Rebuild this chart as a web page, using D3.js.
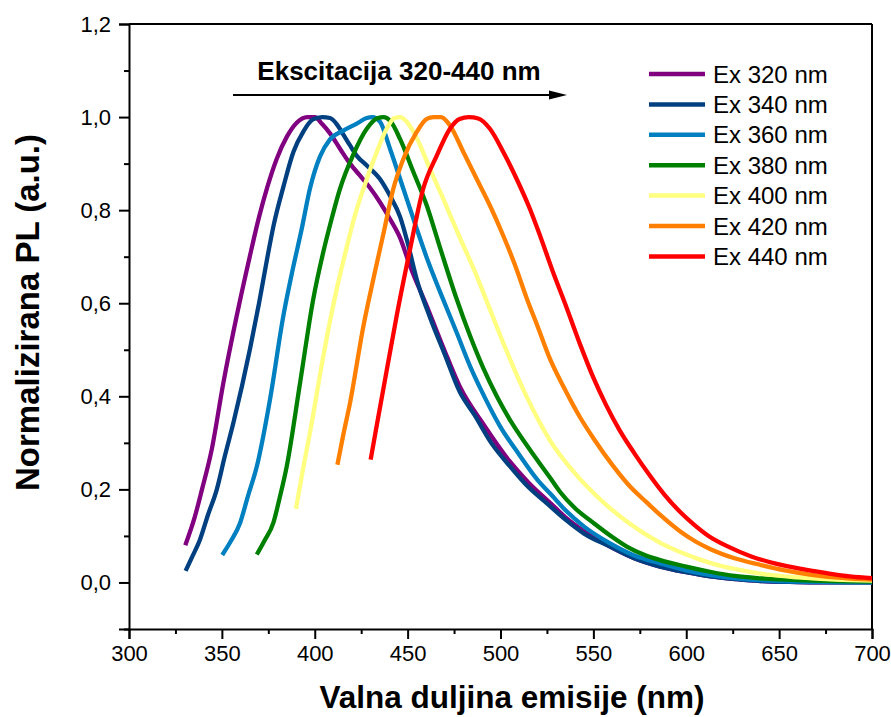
<!DOCTYPE html>
<html>
<head>
<meta charset="utf-8">
<script src="https://cdn.jsdelivr.net/npm/d3@7"></script>
<style>
  html, body { margin: 0; padding: 0; background: #fff; }
  svg { display: block; font-family: "Liberation Sans", Arial, sans-serif; }
</style>
</head>
<body>
<svg id="chart" width="891" height="717"></svg>
<script>
// ---- data ----
const seriesNames = ["Ex 320 nm", "Ex 340 nm", "Ex 360 nm", "Ex 380 nm", "Ex 400 nm", "Ex 420 nm", "Ex 440 nm"];
const seriesColors = ["#800080", "#004080", "#0080c0", "#008000", "#ffff80", "#ff8000", "#ff0000"];

const ex320 = [[330.3,0.08],[335.5,0.142],[339.3,0.2],[344.5,0.285],[350.8,0.429],[358,0.573],[365,0.7],[370,0.785],[374.5,0.85],[379.5,0.91],[385,0.958],[390.3,0.988],[396,1.0],[400,1.0],[404,0.985],[408.2,0.965],[413.6,0.932],[419,0.9],[424.4,0.874],[429.7,0.848],[435.1,0.817],[440.5,0.781],[446,0.74],[451.3,0.68],[460.3,0.594],[469.2,0.505],[478.2,0.42],[490.8,0.34],[505,0.26],[515,0.215],[527,0.17],[535,0.14],[545,0.11],[559,0.077],[572,0.052],[586,0.034],[600,0.022],[613,0.013],[627,0.007],[640,0.003],[660,0.001],[680,0],[700,0]];
const ex340 = [[330.5,0.025],[334,0.055],[338.2,0.092],[342.5,0.145],[347.2,0.199],[351.5,0.27],[356.2,0.343],[365.1,0.501],[370,0.6],[374.1,0.69],[378,0.77],[383.1,0.85],[388.5,0.925],[394,0.97],[399,0.995],[404,1.0],[408.2,0.998],[411.8,0.985],[415,0.965],[419,0.939],[423,0.915],[428,0.896],[435.1,0.867],[440.5,0.831],[446,0.785],[450,0.73],[455,0.65],[462,0.57],[470,0.49],[478,0.41],[486,0.36],[495,0.3],[505,0.25],[515,0.205],[525,0.17],[535,0.135],[545,0.105],[559,0.077],[572,0.052],[586,0.034],[600,0.022],[613,0.013],[627,0.007],[640,0.003],[660,0.001],[680,0],[700,0]];
const ex360 = [[350.2,0.059],[355,0.09],[359.8,0.128],[364,0.185],[368.8,0.249],[375.9,0.393],[383.1,0.573],[388,0.67],[393,0.76],[397.4,0.846],[402.8,0.915],[408.2,0.952],[415.4,0.971],[422.6,0.986],[428,0.998],[431,1.0],[435.1,0.99],[440.5,0.932],[447.7,0.846],[454.9,0.76],[461,0.69],[467.4,0.625],[476.4,0.537],[483.6,0.465],[490,0.41],[499.7,0.336],[510,0.275],[520,0.22],[527,0.19],[535,0.155],[545,0.12],[559,0.084],[572,0.058],[586,0.041],[600,0.026],[613,0.016],[627,0.009],[640,0.005],[660,0.002],[680,0.001],[700,0]];
const ex380 = [[368.8,0.06],[373,0.09],[377.7,0.128],[381,0.18],[384.9,0.249],[392.1,0.429],[399.2,0.609],[404.6,0.71],[409,0.78],[413.6,0.846],[420.8,0.92],[428,0.975],[434,0.998],[437,1.0],[441,0.99],[445.9,0.953],[453.1,0.882],[460.3,0.81],[467.4,0.72],[476.4,0.609],[483.6,0.53],[490.8,0.46],[498,0.4],[505,0.35],[515,0.29],[526.7,0.225],[532,0.195],[540,0.16],[550,0.128],[560,0.098],[568,0.077],[577,0.06],[586,0.048],[600,0.034],[612.8,0.023],[626,0.014],[640,0.009],[660,0.005],[680,0.003],[700,0.002]];
const ex400 = [[389.9,0.158],[393.5,0.24],[397.4,0.321],[404.6,0.486],[411.8,0.63],[417.2,0.72],[421,0.78],[426.2,0.846],[433.4,0.925],[438.7,0.975],[443,0.998],[446,1.0],[449.5,0.99],[454.9,0.955],[462,0.889],[469.2,0.824],[478.2,0.74],[486,0.67],[494,0.59],[503,0.5],[514,0.4],[526.7,0.305],[540,0.235],[556,0.17],[570,0.125],[586,0.085],[600,0.06],[612.8,0.042],[626,0.029],[640,0.019],[660,0.011],[680,0.006],[700,0.004]];
const ex420 = [[412.2,0.253],[415.5,0.32],[419,0.386],[426.2,0.551],[432,0.66],[437,0.75],[442.3,0.846],[447.7,0.91],[454.9,0.968],[460.3,0.996],[464,1.0],[468,1.0],[472.8,0.982],[480,0.925],[487.2,0.867],[494.3,0.81],[501.5,0.745],[508,0.68],[514,0.612],[520,0.55],[526.7,0.48],[534,0.42],[542.8,0.355],[550,0.31],[560.7,0.25],[570,0.205],[578.7,0.172],[586,0.145],[596.6,0.11],[605,0.088],[612.8,0.072],[626,0.052],[639.7,0.038],[653,0.026],[666.6,0.017],[680,0.011],[700,0.006]];
const ex440 = [[430.1,0.264],[433.5,0.34],[436.9,0.415],[444.1,0.573],[451.3,0.716],[458.4,0.846],[465.7,0.917],[472.8,0.975],[478,0.996],[483,1.0],[488,0.997],[494.3,0.975],[501.5,0.925],[508.7,0.867],[515.9,0.802],[521.3,0.745],[528,0.67],[534.7,0.6],[543,0.51],[550,0.44],[557,0.38],[564,0.328],[572,0.278],[580,0.232],[588,0.19],[596.6,0.152],[604,0.125],[612,0.1],[622,0.078],[635,0.056],[648.7,0.04],[662,0.029],[675.6,0.02],[688,0.013],[700,0.009]];
const seriesData = [ex320, ex340, ex360, ex380, ex400, ex420, ex440];

const xTicks = [300, 350, 400, 450, 500, 550, 600, 650, 700];
const yTicks = [0, 0.2, 0.4, 0.6, 0.8, 1.0, 1.2];
const xLabel = "Valna duljina emisije (nm)";
const yLabel = "Normalizirana PL (a.u.)";
const annotation = "Ekscitacija 320-440 nm";

// ---- layout ----
const svg = d3.select("#chart");
const W = 891, H = 717;
const m = {left: 129, right: 19, top: 24, bottom: 88};
const pw = W - m.left - m.right, ph = H - m.top - m.bottom;

const x = d3.scaleLinear().domain([300, 700]).range([m.left, m.left + pw]);
const y = d3.scaleLinear().domain([-0.1, 1.2]).range([m.top + ph, m.top]);

const fmt = d => d3.format(".1f")(d).replace(".", ",");

// frame (top + right)
svg.append("line").attr("x1", x(300)).attr("x2", x(700)).attr("y1", y(1.2)).attr("y2", y(1.2))
  .attr("stroke", "#000").attr("stroke-width", 2);
svg.append("line").attr("x1", x(700)).attr("x2", x(700)).attr("y1", y(1.2)).attr("y2", y(-0.1))
  .attr("stroke", "#000").attr("stroke-width", 2);

// bottom axis
const xAxis = d3.axisBottom(x).tickValues(xTicks).tickSize(10).tickPadding(6).tickFormat(d3.format("d"));
const gx = svg.append("g").attr("transform", `translate(0,${y(-0.1)})`).call(xAxis);
const xMinor = d3.axisBottom(x).tickValues(d3.range(325, 700, 50)).tickSize(5).tickFormat("");
const gxm = svg.append("g").attr("transform", `translate(0,${y(-0.1)})`).call(xMinor);
gxm.select(".domain").remove();

// left axis
const yAxis = d3.axisLeft(y).tickValues(yTicks).tickSize(10).tickPadding(8).tickFormat(fmt);
const gy = svg.append("g").attr("transform", `translate(${x(300)},0)`).call(yAxis);
const yMinor = d3.axisLeft(y).tickValues([0.1, 0.3, 0.5, 0.7, 0.9, 1.1, -0.1]).tickSize(5).tickFormat("");
const gym = svg.append("g").attr("transform", `translate(${x(300)},0)`).call(yMinor);
gym.select(".domain").remove();

[gx, gy, gxm, gym].forEach(g => {
  g.selectAll(".domain").attr("stroke", "#000").attr("stroke-width", 2);
  g.selectAll(".tick line").attr("stroke", "#000").attr("stroke-width", 2);
  g.selectAll(".tick text").attr("font-size", 22).attr("fill", "#000")
    .attr("font-family", "'Liberation Sans', Arial, sans-serif");
});

// series lines
const line = d3.line().x(d => x(d[0])).y(d => y(d[1])).curve(d3.curveMonotoneX);
seriesData.forEach((s, i) => {
  svg.append("path").datum(s).attr("d", line)
    .attr("fill", "none").attr("stroke", seriesColors[i]).attr("stroke-width", 4.3)
    .attr("stroke-linejoin", "round");
});

// annotation + arrow
svg.append("text").attr("x", 399).attr("y", 80).attr("text-anchor", "middle")
  .attr("font-size", 26).attr("font-weight", "bold").text(annotation);
svg.append("line").attr("x1", 233).attr("x2", 553).attr("y1", 95).attr("y2", 95)
  .attr("stroke", "#000").attr("stroke-width", 2);
svg.append("path").attr("d", "M567,95 L549,90.5 L549,99.5 Z").attr("fill", "#000");

// legend
const lg = svg.append("g");
seriesNames.forEach((n, i) => {
  const yy = 74 + i * 30.4;
  lg.append("line").attr("x1", 649).attr("x2", 705).attr("y1", yy).attr("y2", yy)
    .attr("stroke", seriesColors[i]).attr("stroke-width", 4.5);
  lg.append("text").attr("x", 713).attr("y", yy + 8.5).attr("font-size", 24).text(n);
});

// axis titles
svg.append("text").attr("x", 512).attr("y", 708).attr("text-anchor", "middle")
  .attr("font-size", 31.5).attr("font-weight", "bold").text(xLabel);
svg.append("text").attr("transform", `translate(39,312.5) rotate(-90)`)
  .attr("text-anchor", "middle").attr("font-size", 33).attr("font-weight", "bold").text(yLabel);
</script>
</body>
</html>
